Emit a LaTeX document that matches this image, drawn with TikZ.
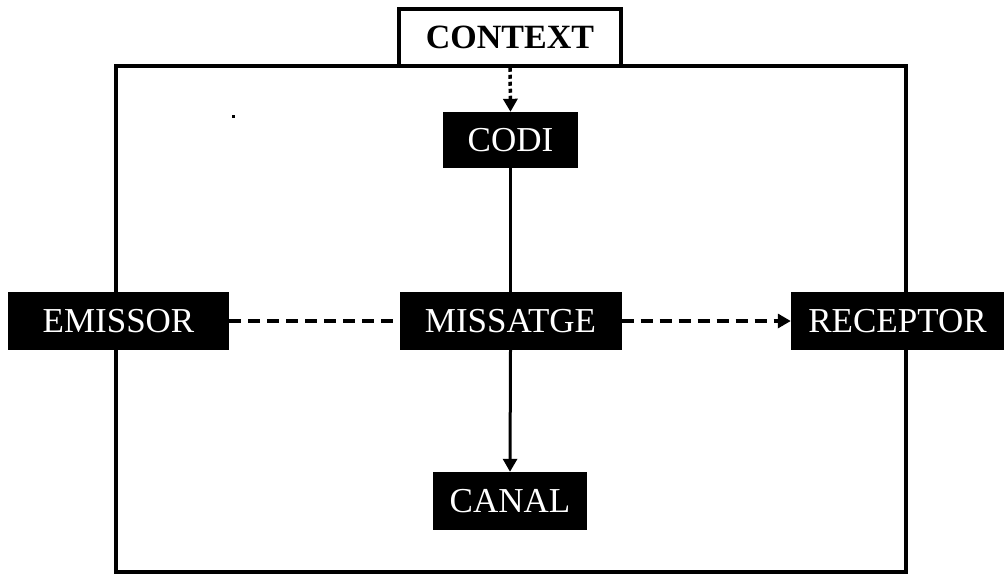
\documentclass[tikz,border=0pt]{standalone}
\usepackage{fontspec}
\setmainfont{Liberation Serif}
\usetikzlibrary{arrows.meta}
\begin{document}
\begin{tikzpicture}[x=1pt,y=-1pt,
  blk/.style={fill=black,draw=none,text=white,inner sep=0pt,font=\fontsize{35}{40}\selectfont},
  ctx/.style={fill=white,draw=black,line width=3.5pt,inner sep=0pt,font=\fontsize{34}{40}\selectfont\bfseries},
  tip/.style={-{Triangle[length=13pt,width=14pt]}},
  dashline/.style={line width=3.5pt,dash pattern=on 12pt off 7pt},
  dotline/.style={line width=3.5pt,dash pattern=on 4pt off 3pt},
  solidline/.style={line width=3pt}]
\useasboundingbox (0,0) rectangle (1004,576);
\draw[line width=4pt] (116,66) rectangle (906,572);
\fill (231.5,114.5) rectangle (234.5,117.5);
\node[ctx,minimum width=222pt,minimum height=57pt] (context) at (510,37.5) {CONTEXT};
\node[blk,minimum width=135pt,minimum height=56pt] (codi) at (510.5,140) {CODI};
\node[blk,minimum width=221pt,minimum height=58pt] (emissor) at (118.5,321) {EMISSOR};
\node[blk,minimum width=222pt,minimum height=58pt] (missatge) at (510.5,321) {MISSATGE};
\node[blk,minimum width=213pt,minimum height=58pt] (receptor) at (897.5,321) {RECEPTOR};
\node[blk,minimum width=154pt,minimum height=58pt] (canal) at (510,501) {CANAL};
\draw[dotline,tip] (context.south) -- (codi.north);
\draw[solidline] (codi.south) -- (missatge.north);
\draw[solidline,tip] (missatge.south) -- (canal.north);
\draw[dashline] (emissor.east) -- (missatge.west);
\draw[dashline,tip] (missatge.east) -- (receptor.west);
\end{tikzpicture}
\end{document}
